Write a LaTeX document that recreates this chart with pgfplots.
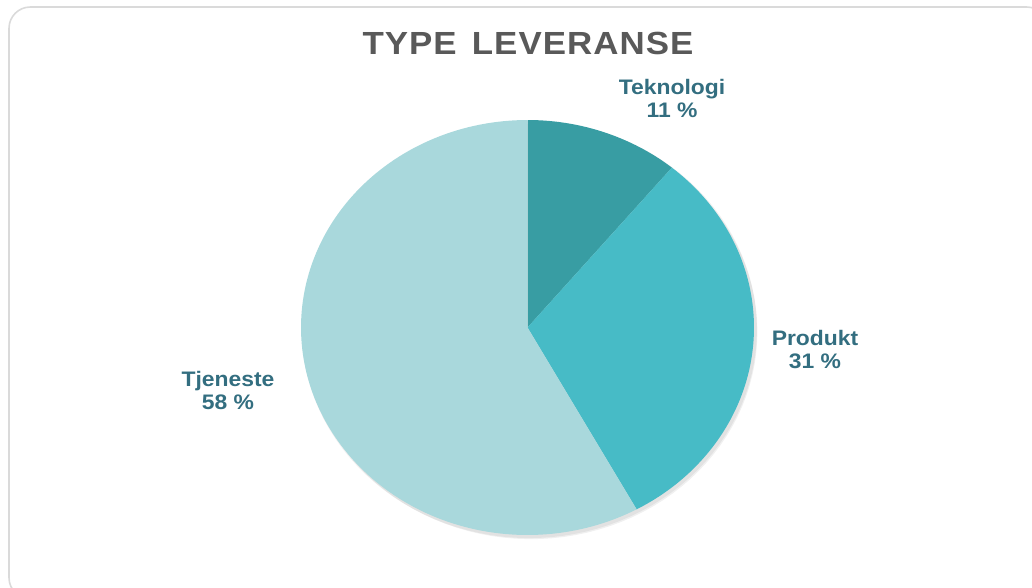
\documentclass[border=0pt]{standalone}
\usepackage{pgfplots}
\pgfplotsset{compat=1.18}
\usepackage{fontspec}
\setmainfont{Liberation Sans}
\newfontfamily\titlefont[LetterSpace=3]{Liberation Sans}
\definecolor{cTek}{HTML}{389DA3}
\definecolor{cPro}{HTML}{47BBC6}
\definecolor{cTje}{HTML}{A9D8DC}
\definecolor{labcol}{HTML}{336E80}
\definecolor{titlecol}{HTML}{595959}
\definecolor{bordercol}{HTML}{DADADA}
% values (percent)
\def\vTek{11}
\def\vPro{31}
\def\vTje{58}
\pgfmathsetmacro{\aA}{90}
\pgfmathsetmacro{\aB}{90-3.6*\vTek}
\pgfmathsetmacro{\aC}{\aB-3.6*\vPro}
\pgfmathsetmacro{\aD}{\aC-3.6*\vTje}
\begin{document}
\begin{tikzpicture}[x=0.75pt,y=0.75pt]
\useasboundingbox (0,0) rectangle (1032,587);
\begin{scope}
\clip (0,0) rectangle (1032,587);
\draw[draw=bordercol, line width=1.2pt, rounded corners=16pt] (9,580) rectangle (1048,-12);
\end{scope}
\begin{axis}[at={(395.625pt,194.625pt)}, anchor=center, scale only axis,
  width=339.75pt, height=311.25pt, xmin=-1, xmax=1, ymin=-1, ymax=1,
  hide axis, clip=false]
\addplot[fill=black, opacity=0.06, draw=none, domain=0:360, samples=120] ({cos(x)+0.015},{sin(x)-0.02});
\addplot[fill=black, opacity=0.06, draw=none, domain=0:360, samples=120] ({1.005*cos(x)+0.008},{1.005*sin(x)-0.01});
\addplot[fill=cTek, draw=none, domain=\aB:\aA, samples=40] ({cos(x)},{sin(x)}) -- (axis cs:0,0) -- cycle;
\addplot[fill=cPro, draw=none, domain=\aC:\aB, samples=80] ({cos(x)},{sin(x)}) -- (axis cs:0,0) -- cycle;
\addplot[fill=cTje, draw=none, domain=\aD:\aC, samples=140] ({cos(x)},{sin(x)}) -- (axis cs:0,0) -- cycle;
\end{axis}
\node[text=titlecol, font=\titlefont\bfseries\fontsize{24}{27}\selectfont, anchor=center, xscale=1.09, inner sep=0pt] at (528,543.6) {TYPE\hspace{3pt} LEVERANSE};
\begin{scope}[every node/.style={text=labcol, align=center, font=\bfseries\fontsize{15.75}{17.25}\selectfont, anchor=center, xscale=1.09}]
\node at (672,488.5) {Teknologi\\11 \%};
\node at (815,237.5) {Produkt\\31 \%};
\node at (228,196.5) {Tjeneste\\58 \%};
\end{scope}
\end{tikzpicture}
\end{document}
